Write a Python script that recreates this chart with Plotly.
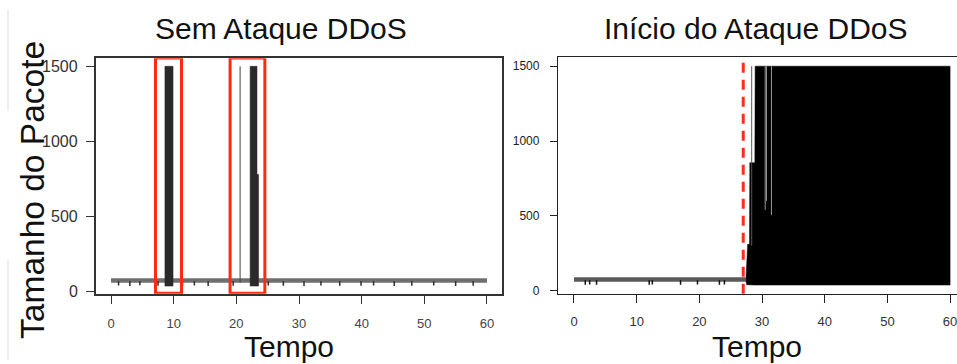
import plotly.graph_objects as go

W, H = 957, 364

# ---------------- data ----------------
x_ticks = [0, 10, 20, 30, 40, 50, 60]
y_ticks = [0, 500, 1000, 1500]

# Left panel: "Sem Ataque DDoS" (normal traffic)
left_base_t = [0.0, 60.0]
left_base_lo = [60, 60]
left_base_hi = [90, 90]
left_dip_t = [1.2, 3.0, 4.6, 7.5, 11.4, 13.3, 15.5, 19.5, 25.1, 27.5, 30.8,
              33.5, 36.5, 39.9, 41.9, 45.2, 48.0, 51.5, 55.0, 57.8]
left_dip_size = [42, 38, 44, 40, 40, 42, 38, 40, 42, 40, 38,
                 42, 40, 40, 42, 38, 40, 42, 38, 40]
left_burst_t0 = [8.6, 22.2, 23.3]
left_burst_t1 = [9.9, 23.3, 23.55]
left_burst_lo = [38, 38, 38]
left_burst_hi = [1500, 1500, 780]
left_spike_t = [20.6]
left_spike_size = [1500]
highlight_t0 = [7.1, 19.0]
highlight_t1 = [11.25, 24.55]
highlight_lo = -10
highlight_hi = 1556

# Right panel: "Início do Ataque DDoS"
right_base_t = [0.0, 27.45]
right_base_lo = [60, 60]
right_base_hi = [90, 90]
right_dip_t = [1.8, 2.5, 3.6, 12.0, 12.5, 17.0, 19.7, 23.2, 24.0]
right_dip_size = [40, 42, 40, 40, 42, 40, 42, 40, 42]
attack_t = [27.45, 27.55, 27.7, 28.0, 28.05, 28.85, 28.9, 60.0]
attack_hi = [90, 150, 310, 310, 855, 855, 1500, 1500]
attack_lo = [60, 40, 40, 40, 40, 38, 38, 38]
attack_thin_t = [28.35]
attack_thin_size = [1500]
attack_gap_t = [30.5, 30.7, 31.5]
attack_gap_lo = [540, 600, 505]
attack_gap_hi = [1500, 1500, 1500]
attack_start = 27.0

titles = ["Sem Ataque DDoS", "Início do Ataque DDoS"]
x_title = "Tempo"
y_title = "Tamanho do Pacote"


# ---------------- helpers ----------------
def band(t, lo, hi):
    return list(t) + list(reversed(t)), list(hi) + list(reversed(lo))


def rects(t0s, t1s, los, his):
    xs, ys = [], []
    for a, b, lo, hi in zip(t0s, t1s, los, his):
        xs += [a, b, b, a, a, None]
        ys += [lo, lo, hi, hi, lo, None]
    return xs, ys


def vsegs(ts, los, his):
    xs, ys = [], []
    for t, lo, hi in zip(ts, los, his):
        xs += [t, t, None]
        ys += [lo, hi, None]
    return xs, ys


fig = go.Figure()

# ---- left panel traces ----
bx, by = band(left_base_t, left_base_lo, left_base_hi)
fig.add_trace(go.Scatter(x=bx, y=by, fill="toself", fillcolor="rgba(50,50,50,0.7)",
                         line=dict(width=0), mode="lines", xaxis="x", yaxis="y",
                         hoverinfo="skip"))
dx, dy = vsegs(left_dip_t, left_dip_size, [70] * len(left_dip_t))
fig.add_trace(go.Scatter(x=dx, y=dy, mode="lines", line=dict(color="#2b2b2b", width=1.5),
                         xaxis="x", yaxis="y", hoverinfo="skip"))
rx, ry = rects(left_burst_t0, left_burst_t1, left_burst_lo, left_burst_hi)
fig.add_trace(go.Scatter(x=rx, y=ry, fill="toself", fillcolor="#2a2a2a",
                         line=dict(width=0.5, color="#2a2a2a"), mode="lines",
                         xaxis="x", yaxis="y", hoverinfo="skip"))
sx, sy = vsegs(left_spike_t, [60] * len(left_spike_t), left_spike_size)
fig.add_trace(go.Scatter(x=sx, y=sy, mode="lines", line=dict(color="#444444", width=1),
                         xaxis="x", yaxis="y", hoverinfo="skip"))

# ---- right panel traces ----
bx, by = band(right_base_t, right_base_lo, right_base_hi)
fig.add_trace(go.Scatter(x=bx, y=by, fill="toself", fillcolor="rgba(20,20,20,0.7)",
                         line=dict(width=0), mode="lines", xaxis="x2", yaxis="y2",
                         hoverinfo="skip"))
dx, dy = vsegs(right_dip_t, right_dip_size, [70] * len(right_dip_t))
fig.add_trace(go.Scatter(x=dx, y=dy, mode="lines", line=dict(color="#111111", width=1.5),
                         xaxis="x2", yaxis="y2", hoverinfo="skip"))
ax, ay = band(attack_t, attack_lo, attack_hi)
fig.add_trace(go.Scatter(x=ax, y=ay, fill="toself", fillcolor="#000000",
                         line=dict(width=0.5, color="#000000"), mode="lines",
                         xaxis="x2", yaxis="y2", hoverinfo="skip"))
sx, sy = vsegs(attack_thin_t, [300] * len(attack_thin_t), attack_thin_size)
fig.add_trace(go.Scatter(x=sx, y=sy, mode="lines", line=dict(color="#555555", width=1),
                         xaxis="x2", yaxis="y2", hoverinfo="skip"))
gx, gy = vsegs(attack_gap_t, attack_gap_lo, attack_gap_hi)
fig.add_trace(go.Scatter(x=gx, y=gy, mode="lines", line=dict(color="#9a9a9a", width=1),
                         xaxis="x2", yaxis="y2", hoverinfo="skip"))

# ---------------- layout ----------------
def px_x(p):
    return p / W


def px_y(p):
    return 1 - p / H


narrow = "Liberation Sans Narrow, Arial Narrow, Liberation Sans, Arial, sans-serif"
sans = "Liberation Sans, Arial, Helvetica, sans-serif"

common_x = dict(tickvals=x_ticks, ticks="outside", showgrid=False, zeroline=False,
                showline=True, mirror=True, ticklabelstandoff=8,
                ticklabeloverflow="allow")
common_y = dict(tickvals=y_ticks, ticks="outside", showgrid=False, zeroline=False,
                showline=True)

fig.update_layout(
    width=W, height=H, margin=dict(l=0, r=0, t=0, b=0),
    paper_bgcolor="white", plot_bgcolor="white", showlegend=False,
    xaxis=dict(domain=[px_x(96), px_x(502)], range=[-2.4, 62.4], anchor="y",
               linecolor="#333333", linewidth=1.5, tickcolor="#333333", tickwidth=1.2,
               ticklen=9, tickfont=dict(family=sans, size=13, color="#444444"),
               **common_x),
    yaxis=dict(domain=[px_y(297), px_y(59)], range=[-13, 1553], anchor="x",
               linecolor="#333333", linewidth=1.5, tickcolor="#333333", tickwidth=1.2,
               ticklen=8, mirror=True, showticklabels=False,
               **common_y),
    xaxis2=dict(domain=[px_x(558), 1.0], range=[-2.55, 61.1], anchor="y2",
                linecolor="#222222", linewidth=1.3, tickcolor="#222222", tickwidth=1.2,
                ticklen=8, tickfont=dict(family=sans, size=13, color="#333333"),
                **common_x),
    yaxis2=dict(domain=[px_y(297), px_y(58)], range=[-20, 1559], anchor="x2",
                linecolor="#222222", linewidth=1.3, tickcolor="#222222", tickwidth=1.2,
                ticklen=7, mirror=False, ticklabelstandoff=8,
                tickfont=dict(family=sans, size=12, color="#222222"),
                **common_y),
)

shapes = []
for a, b in zip(highlight_t0, highlight_t1):
    shapes.append(dict(type="rect", xref="x", yref="y", x0=a, x1=b,
                       y0=highlight_lo, y1=highlight_hi,
                       line=dict(color="#ff2a12", width=3), fillcolor="rgba(0,0,0,0)"))
shapes.append(dict(type="line", xref="x2", yref="y2 domain", x0=attack_start, x1=attack_start,
                   y0=0, y1=1, line=dict(color="#ff2d1a", width=3, dash="10px,7px")))
# faint scan artifacts at the far left
shapes.append(dict(type="line", xref="paper", yref="paper", x0=px_x(8), x1=px_x(8),
                   y0=px_y(10), y1=px_y(112), line=dict(color="#dddddd", width=1)))
shapes.append(dict(type="line", xref="paper", yref="paper", x0=px_x(8), x1=px_x(8),
                   y0=px_y(263), y1=px_y(364), line=dict(color="#dddddd", width=1)))
fig.update_layout(shapes=shapes)


def label(text, cx, cy, size, angle=0):
    return dict(text=text, x=px_x(cx), y=px_y(cy), xref="paper", yref="paper",
                xanchor="center", yanchor="middle", textangle=angle, showarrow=False,
                font=dict(family=sans, size=size, color="#111111"))


ann = [
    label(titles[0], 281, 29, 30),
    label(titles[1], 756, 29, 30),
    label(x_title, 289, 350, 30),
    label(x_title, 757, 350, 30),
    label(y_title, 33, 192, 33.5, -90),
]
# left-panel y tick labels (condensed, placed on the y axis scale)
for v in y_ticks:
    ann.append(dict(text=str(v), x=px_x(80), xref="paper", y=v, yref="y",
                    xanchor="right", yanchor="middle", showarrow=False,
                    font=dict(family=narrow, size=16, color="#333333")))
fig.update_layout(annotations=ann)

fig.write_html("out.html")
